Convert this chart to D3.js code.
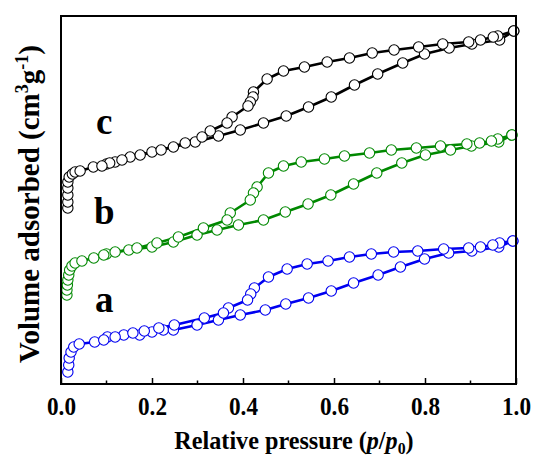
<!DOCTYPE html>
<html>
<head>
<meta charset="utf-8">
<script src="https://cdn.jsdelivr.net/npm/d3@7"></script>
<style>
  body { margin: 0; background: white; }
  svg { display: block; }
</style>
</head>
<body>
<div class="chart"></div>
<script>
// N2 isotherms, relative pressure vs volume adsorbed (arbitrary offset units)
const xTicks = [0, 0.2, 0.4, 0.6, 0.8, 1.0];
const xMinorTicks = [0.1, 0.3, 0.5, 0.7, 0.9];

// sample a (blue)
const aAdsP = [0.015, 0.017, 0.018, 0.022, 0.028, 0.04, 0.074, 0.102, 0.138, 0.173, 0.2, 0.225, 0.247, 0.299, 0.346, 0.394, 0.449, 0.494, 0.544, 0.594, 0.643, 0.697, 0.746, 0.799, 0.852, 0.903, 0.962, 0.993];
const aAdsV = [12, 19, 26, 32, 37, 40, 42, 47, 49, 49, 52, 54, 54, 59, 64, 69, 74, 80, 86, 93, 101, 109, 117, 125, 131, 133, 137, 143];
const aDesP = [0.993, 0.964, 0.949, 0.922, 0.896, 0.841, 0.784, 0.731, 0.682, 0.634, 0.587, 0.541, 0.497, 0.456, 0.425, 0.417, 0.41, 0.368, 0.357, 0.315, 0.249, 0.215, 0.183, 0.158, 0.119, 0.094];
const aDesV = [143, 141, 139, 137, 136, 135, 133, 132, 130, 127, 123, 120, 115, 107, 96, 90, 84, 76, 71, 66, 59, 56, 53, 51, 47, 44];

// sample b (green)
const bAdsP = [0.013, 0.013, 0.014, 0.015, 0.017, 0.019, 0.024, 0.031, 0.046, 0.072, 0.1, 0.149, 0.2, 0.247, 0.299, 0.343, 0.39, 0.445, 0.493, 0.543, 0.593, 0.643, 0.694, 0.749, 0.801, 0.856, 0.902, 0.962, 0.991];
const bAdsV = [89, 94, 99, 104, 109, 114, 118, 121, 123, 126, 130, 134, 137, 142, 149, 154, 159, 164, 172, 180, 189, 200, 211, 221, 229, 234, 238, 242, 249];
const bDesP = [0.991, 0.96, 0.946, 0.92, 0.892, 0.834, 0.781, 0.726, 0.678, 0.623, 0.579, 0.528, 0.489, 0.456, 0.431, 0.423, 0.416, 0.372, 0.365, 0.313, 0.258, 0.211, 0.167, 0.119, 0.094];
const bDesV = [249, 245, 243, 241, 240, 238, 236, 234, 231, 228, 225, 222, 218, 211, 197, 191, 184, 171, 164, 156, 147, 141, 136, 132, 129];

// sample c (black)
const cAdsP = [0.015, 0.015, 0.015, 0.015, 0.015, 0.018, 0.025, 0.031, 0.042, 0.071, 0.1, 0.119, 0.152, 0.2, 0.247, 0.295, 0.346, 0.394, 0.445, 0.495, 0.544, 0.594, 0.645, 0.696, 0.751, 0.799, 0.853, 0.903, 0.964, 0.995];
const cAdsV = [176, 182, 189, 196, 202, 207, 210, 212, 213, 217, 220, 222, 227, 232, 237, 242, 248, 254, 261, 268, 277, 287, 299, 310, 321, 330, 336, 340, 344, 353];
const cDesP = [0.995, 0.96, 0.95, 0.922, 0.896, 0.839, 0.786, 0.732, 0.684, 0.634, 0.585, 0.535, 0.489, 0.453, 0.423, 0.422, 0.416, 0.411, 0.376, 0.365, 0.328, 0.31, 0.273, 0.22, 0.174, 0.134, 0.107, 0.09];
const cDesV = [353, 348, 347, 344, 342, 340, 337, 334, 331, 326, 322, 317, 313, 305, 292, 287, 282, 278, 267, 261, 253, 247, 241, 234, 229, 224, 221, 218];

const sampleNames = ["a", "b", "c"];
const sampleColors = ["#0000f0", "#008800", "#000000"];
const labelV = [72, 160, 250];
const labelP = [0.095, 0.095, 0.095];

const series = [
  { ads: [aAdsP, aAdsV], des: [aDesP, aDesV] },
  { ads: [bAdsP, bAdsV], des: [bDesP, bDesV] },
  { ads: [cAdsP, cAdsV], des: [cDesP, cDesV] }
];

const W = 535, H = 457;
const margin = { top: 16, right: 19, bottom: 73, left: 61 };
const serif = "'Liberation Serif', 'Times New Roman', serif";

const svg = d3.select(".chart")
  .append("svg")
  .attr("width", W)
  .attr("height", H)
  .style("font-family", serif)
  .style("font-weight", "bold");

const xScale = d3.scaleLinear()
  .domain([0, 1])
  .range([margin.left, W - margin.right]);

const yScale = d3.scaleLinear()
  .domain([0, 368])
  .range([H - margin.bottom, margin.top]);

const line = d3.line()
  .x(d => xScale(d[0]))
  .y(d => yScale(d[1]));

// Step 1: curves, lines first then open circles
series.forEach((s, i) => {
  const g = svg.append("g");
  [s.ads, s.des].forEach(branch => {
    const pts = branch[0].map((p, k) => [p, branch[1][k]]);
    g.append("path")
      .datum(pts)
      .attr("d", line)
      .attr("fill", "none")
      .attr("stroke", sampleColors[i])
      .attr("stroke-width", 2.6)
      .attr("stroke-linejoin", "round");
  });
  [s.ads, s.des].forEach(branch => {
    const pts = branch[0].map((p, k) => [p, branch[1][k]]);
    g.selectAll(null)
      .data(pts)
      .join("circle")
      .attr("cx", d => xScale(d[0]))
      .attr("cy", d => yScale(d[1]))
      .attr("r", 5.2)
      .attr("fill", "white")
      .attr("stroke", sampleColors[i])
      .attr("stroke-width", 1.1);
  });

  svg.append("text")
    .attr("x", xScale(labelP[i]))
    .attr("y", yScale(labelV[i]))
    .attr("text-anchor", "middle")
    .style("font-size", "37px")
    .text(sampleNames[i]);
});

// Step 2: frame and x axis with inward ticks
svg.append("rect")
  .attr("x", margin.left)
  .attr("y", margin.top)
  .attr("width", W - margin.left - margin.right)
  .attr("height", H - margin.top - margin.bottom)
  .attr("fill", "none")
  .attr("stroke", "black")
  .attr("stroke-width", 2);

const xAxis = svg.append("g")
  .attr("transform", `translate(0, ${H - margin.bottom})`)
  .call(d3.axisBottom(xScale)
    .tickValues(xTicks)
    .tickSizeInner(-6)
    .tickSizeOuter(0)
    .tickPadding(13)
    .tickFormat(d3.format(".1f")));

xAxis.select(".domain").remove();
xAxis.selectAll("line").attr("stroke-width", 1.5);
xAxis.selectAll("text")
  .style("font-family", serif)
  .style("font-weight", "bold")
  .style("font-size", "26px")
  .attr("textLength", 29)
  .attr("lengthAdjust", "spacingAndGlyphs")
  .attr("fill", "black");

xAxis.selectAll(".minor")
  .data(xMinorTicks)
  .join("line")
  .attr("class", "minor")
  .attr("x1", d => xScale(d))
  .attr("x2", d => xScale(d))
  .attr("y1", 0)
  .attr("y2", -3.5)
  .attr("stroke", "black")
  .attr("stroke-width", 1.5);

// Step 3: axis titles
const xTitle = svg.append("text")
  .attr("transform", "translate(294, 449) scale(0.93, 1)")
  .attr("text-anchor", "middle")
  .style("font-size", "26px");
xTitle.append("tspan").text("Relative pressure (");
xTitle.append("tspan").style("font-style", "italic").text("p");
xTitle.append("tspan").text("/");
xTitle.append("tspan").style("font-style", "italic").text("p");
xTitle.append("tspan").attr("dy", 5).style("font-size", "17px").text("0");
xTitle.append("tspan").attr("dy", -5).text(")");

const yTitle = svg.append("text")
  .attr("transform", `translate(39, 204) rotate(-90)`)
  .attr("text-anchor", "middle")
  .style("font-size", "29px");
yTitle.append("tspan").text("Volume adsorbed (cm");
yTitle.append("tspan").attr("dy", -11).style("font-size", "18px").text("3");
yTitle.append("tspan").attr("dy", 11).text("g");
yTitle.append("tspan").attr("dy", -11).style("font-size", "18px").text("-1");
yTitle.append("tspan").attr("dy", 11).text(")");
</script>
</body>
</html>
